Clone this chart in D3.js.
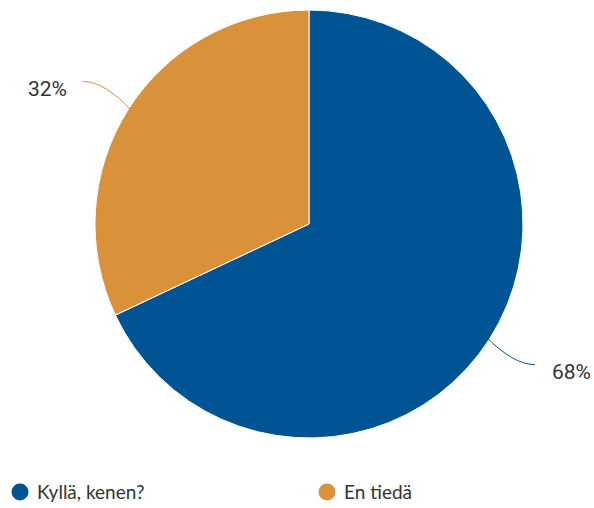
<!DOCTYPE html>
<html>
<head>
<meta charset="utf-8">
<script src="https://cdn.jsdelivr.net/npm/d3@7"></script>
<style>
  body { margin: 0; background: #fff; }
  .legend text { font-family: Lato, 'Open Sans', sans-serif; }
  text.pct { font-family: Roboto, sans-serif; }
</style>
</head>
<body>
<div id="chart"></div>
<script>
var CATEGORIES = ['Kyllä, kenen?', 'En tiedä']
var VALUES = [68, 32]
var COLORS = ['#005493', '#d9923a']

var width = 594
var height = 508
var cx = 309
var cy = 224
var radius = 214

var svg = d3.select('#chart')
    .append('svg')
    .attr('width', width)
    .attr('height', height)

var g = svg.append('g')
    .attr('transform', 'translate(' + cx + ',' + cy + ')')

var pie = d3.pie().sort(null).value(function (d) { return d })
var arc = d3.arc().innerRadius(0).outerRadius(radius)
var arcs = pie(VALUES)

g.selectAll('.slice')
    .data(arcs)
    .enter().append('path')
    .attr('class', 'slice')
    .attr('d', arc)
    .attr('fill', function (d, i) { return COLORS[i] })
    .attr('stroke', '#fff')
    .attr('stroke-width', 1)

var radial = function (d, r) {
    var a = (d.startAngle + d.endAngle) / 2
    return [Math.sin(a) * r, -Math.cos(a) * r]
}

// where the leader line ends, flat at the end
var lineEnd = function (d) {
    var p = radial(d, 268)
    return [p[0] > 0 ? 226 : -226, p[1] > 0 ? p[1] - 3 : p[1] + 1]
}

g.selectAll('.leader')
    .data(arcs)
    .enter().append('path')
    .attr('class', 'leader')
    .attr('fill', 'none')
    .attr('stroke', function (d, i) { return COLORS[i] })
    .attr('stroke-width', 1)
    .attr('d', function (d) {
        var p0 = radial(d, radius - 6)
        var e = lineEnd(d)
        var c = [e[0] > 0 ? e[0] - 22 : e[0] + 22, e[1]]
        return 'M' + p0 + 'Q' + c + ' ' + e
    })

g.selectAll('.pct')
    .data(arcs)
    .enter().append('text')
    .attr('class', 'pct')
    .attr('x', function (d) {
        var e = lineEnd(d)
        return e[0] > 0 ? e[0] + 17 : e[0] - 16
    })
    .attr('y', function (d) { return lineEnd(d)[1] + 7 })
    .attr('dy', '0.35em')
    .attr('text-anchor', function (d) {
        return lineEnd(d)[0] > 0 ? 'start' : 'end'
    })
    .style('font-size', '21px')
    .attr('fill', '#333')
    .text(function (d) { return d.data + '%' })

// legend
var legend = svg.selectAll('.legend')
    .data(CATEGORIES)
    .enter().append('g')
    .attr('class', 'legend')
    .attr('transform', function (d, i) { return 'translate(' + (20 + i * 307) + ',492)' })

legend.append('circle')
    .attr('r', 8.5)
    .attr('fill', function (d, i) { return COLORS[i] })

legend.append('text')
    .attr('x', 17)
    .attr('dy', '0.35em')
    .attr('font-size', 19)
    .attr('fill', '#333')
    .text(function (d) { return d })
</script>
</body>
</html>
